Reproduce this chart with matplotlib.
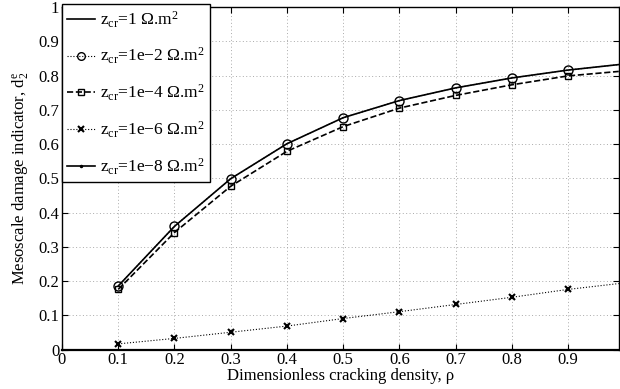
import matplotlib
matplotlib.use("Agg")
import matplotlib.pyplot as plt

plt.rcParams['font.family'] = ['Liberation Serif', 'DejaVu Serif']
plt.rcParams['mathtext.fontset'] = 'custom'
plt.rcParams['mathtext.rm'] = 'Liberation Serif'
plt.rcParams['mathtext.it'] = 'Liberation Serif:italic'
plt.rcParams['mathtext.default'] = 'regular'

# Cracking density samples (markers on 0.1..0.9, last point closes the curve)
rho = [0.1, 0.2, 0.3, 0.4, 0.5, 0.6, 0.7, 0.8, 0.9, 0.99]

d_z1 = [0.186, 0.360, 0.499, 0.601, 0.677, 0.727, 0.764, 0.793, 0.816, 0.832]
d_z1e2 = [0.186, 0.360, 0.499, 0.601, 0.677, 0.727, 0.764, 0.793, 0.816, 0.832]
d_z1e4 = [0.176, 0.342, 0.477, 0.579, 0.651, 0.705, 0.742, 0.773, 0.799, 0.812]
d_z1e6 = [0.017, 0.033, 0.051, 0.069, 0.091, 0.111, 0.132, 0.153, 0.176, 0.193]
d_z1e8 = [0.0, 0.0, 0.0, 0.0, 0.0, 0.0, 0.0, 0.0, 0.0, 0.0]

labels = [r"$z_{cr}$=1 Ω.m$^2$",
          r"$z_{cr}$=1e−2 Ω.m$^2$",
          r"$z_{cr}$=1e−4 Ω.m$^2$",
          r"$z_{cr}$=1e−6 Ω.m$^2$",
          r"$z_{cr}$=1e−8 Ω.m$^2$"]

xticks = [0, 0.1, 0.2, 0.3, 0.4, 0.5, 0.6, 0.7, 0.8, 0.9]
xticklabels = ["0", "0.1", "0.2", "0.3", "0.4", "0.5", "0.6", "0.7", "0.8", "0.9"]
yticks = [0, 0.1, 0.2, 0.3, 0.4, 0.5, 0.6, 0.7, 0.8, 0.9, 1]
yticklabels = ["0", "0.1", "0.2", "0.3", "0.4", "0.5", "0.6", "0.7", "0.8", "0.9", "1"]

fig = plt.figure(figsize=(6.2, 3.89), dpi=100)
ax = fig.add_axes([0.1, 0.101, 0.898, 0.881])

mk = list(range(9))
ax.plot(rho, d_z1, '-', color='k', lw=1.2, label=labels[0])
ax.plot(rho, d_z1e2, ':', color='k', lw=0.8, marker='o', ms=6.5, mfc='none',
        mew=1.0, markevery=mk, label=labels[1])
ax.plot(rho, d_z1e4, '--', color='k', lw=1.2, marker='s', ms=5, mfc='none',
        mew=1.0, markevery=mk, label=labels[2])
ax.plot(rho, d_z1e6, ':', color='k', lw=0.8, marker='x', ms=4.5,
        mew=1.5, markevery=mk, label=labels[3])
ax.plot(rho, d_z1e8, '-', color='k', lw=1.2, marker='.', ms=3,
        markevery=mk, label=labels[4])

ax.set_xlim(0, 0.99)
ax.set_ylim(0, 1)
ax.set_xticks(xticks)
ax.set_xticklabels(xticklabels)
ax.set_yticks(yticks)
ax.set_yticklabels(yticklabels)
ax.tick_params(direction='in', top=True, right=True, labelsize=12, length=4,
               pad=2)
ax.grid(True, linestyle=(0, (1, 2.5)), color='#aaaaaa', lw=0.7)
for s in ax.spines.values():
    s.set_linewidth(1.0)
ax.spines['bottom'].set_linewidth(1.6)

ax.set_xlabel("Dimensionless cracking density, ρ", fontsize=12, labelpad=0)
ax.set_ylabel(r"Mesoscale damage indicator, d$_2^e$", fontsize=12, labelpad=6)

leg = ax.legend(loc='upper left', bbox_to_anchor=(62/620, 1 - 4/389),
                bbox_transform=fig.transFigure, fontsize=12.5,
                fancybox=False, framealpha=1, edgecolor='k',
                borderpad=0.3, labelspacing=0.95, handlelength=1.6,
                handletextpad=0.3, borderaxespad=0)
leg.get_frame().set_linewidth(1.0)
for h in leg.legend_handles:
    if h.get_marker() == 'o':
        h.set_markersize(5.5)

fig.savefig("out.png", dpi=100)
